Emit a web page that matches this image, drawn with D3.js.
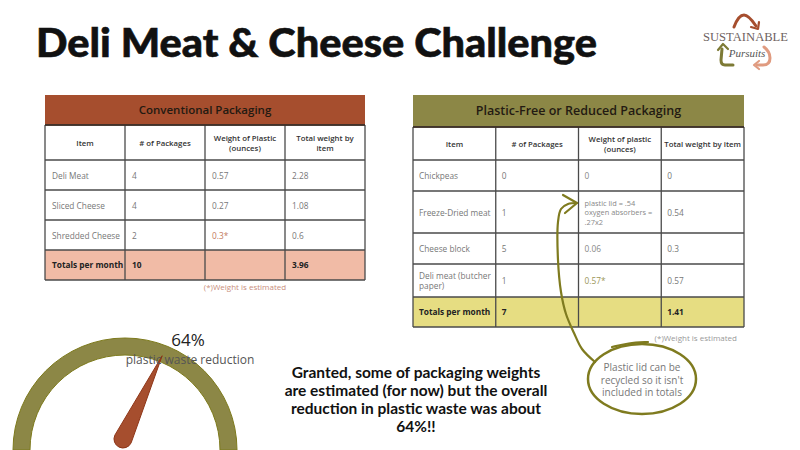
<!DOCTYPE html>
<html><head><meta charset="utf-8">
<script src="https://cdn.jsdelivr.net/npm/d3@7"></script>
<style>html,body{margin:0;padding:0;background:#fff;}svg{display:block;}</style>
</head><body>
<svg id="chart" width="800" height="450"></svg>
<script>
// ---------- DATA ----------
const titleText = "Deli Meat & Cheese Challenge";

const convTitle = "Conventional Packaging";
const convColumns = ["Item", "# of Packages", "Weight of Plastic\n(ounces)", "Total weight by\nitem"];
const convItems = ["Deli Meat", "Sliced Cheese", "Shredded Cheese"];
const convPackages = [4, 4, 2];
const convWeight = ["0.57", "0.27", "0.3*"];
const convEstimated = [false, false, true];
const convTotal = [2.28, 1.08, 0.6];
const convTotalsLabel = "Totals per month";
const convTotalPackages = 10;
const convTotalWeight = 3.96;

const redTitle = "Plastic-Free or Reduced Packaging";
const redColumns = ["Item", "# of Packages", "Weight of plastic\n(ounces)", "Total weight by item"];
const redItems = ["Chickpeas", "Freeze-Dried meat", "Cheese block", "Deli meat (butcher\npaper)"];
const redPackages = [0, 1, 5, 1];
const redWeight = ["0", "plastic lid = .54\noxygen absorbers =\n.27x2", "0.06", "0.57*"];
const redEstimated = [false, false, false, true];
const redTotal = [0, 0.54, 0.3, 0.57];
const redTotalsLabel = "Totals per month";
const redTotalPackages = 7;
const redTotalWeight = 1.41;

const footnote = "(*)Weight is estimated";
const gaugeValue = 64;
const gaugeLabel = "plastic waste reduction";
const summaryLines = ["Granted, some of packaging weights", "are estimated (for now) but the overall", "reduction in plastic waste was about", "64%!!"];
const calloutLines = ["Plastic lid can be", "recycled so it isn't", "included in totals"];

// ---------- DRAW ----------
const svg = d3.select("#chart");
svg.append("rect").attr("width", 800).attr("height", 450).attr("fill", "#fff");

// Title
svg.append("text").attr("x", 36).attr("y", 57)
  .attr("font-family", "Lato").attr("font-weight", 900).attr("font-size", 39)
  .attr("textLength", 561).attr("lengthAdjust", "spacingAndGlyphs")
  .attr("fill", "#111").attr("stroke", "#111").attr("stroke-width", 0.6).text(titleText);

function multiline(sel, txt, lh) {
  const lines = String(txt).split("\n");
  const off = -(lines.length - 1) * lh / 2;
  lines.forEach((l, i) => {
    sel.append("tspan").attr("x", sel.attr("x")).attr("dy", i === 0 ? off + lh * 0.35 : lh).text(l);
  });
}

function drawTable(cfg) {
  const g = svg.append("g");
  const x = d3.scaleBand().domain(d3.range(4)).range(cfg.xRange);
  const ys = [cfg.y0];
  cfg.rowH.forEach(h => ys.push(ys[ys.length - 1] + h));
  const x0 = cfg.xRange[0], x1 = cfg.xRange[1];
  g.append("rect").attr("x", x0).attr("y", ys[0]).attr("width", x1 - x0).attr("height", ys[1] - ys[0]).attr("fill", cfg.headColor);
  g.append("text").attr("x", (x0 + x1) / 2).attr("y", (ys[0] + ys[1]) / 2).attr("dy", "0.35em")
    .attr("text-anchor", "middle").attr("font-family", "Open Sans").attr("font-weight", 600)
    .attr("font-size", cfg.titleSize).attr("fill", "#231a12").text(cfg.title);
  const tr = ys.length - 2;
  g.append("rect").attr("x", x0).attr("y", ys[tr]).attr("width", x1 - x0).attr("height", ys[tr + 1] - ys[tr]).attr("fill", cfg.totalColor);
  const lineC = "#4a4a4a";
  ys.slice(1).forEach(y => g.append("line").attr("x1", x0).attr("x2", x1).attr("y1", y).attr("y2", y).attr("stroke", lineC).attr("stroke-width", 1.3));
  [x0, x(1), x(2), x(3), x1].forEach(xx => g.append("line").attr("x1", xx).attr("x2", xx).attr("y1", ys[1]).attr("y2", ys[ys.length - 1]).attr("stroke", lineC).attr("stroke-width", 1.3));
  g.append("line").attr("x1", x0).attr("x2", x1).attr("y1", ys[1]).attr("y2", ys[1]).attr("stroke", "#3a2a20").attr("stroke-width", 1.6);
  cfg.columns.forEach((c, i) => {
    const t = g.append("text").attr("x", x(i) + x.bandwidth() / 2).attr("y", (ys[1] + ys[2]) / 2)
      .attr("text-anchor", "middle").attr("font-family", "Open Sans").attr("font-weight", 600)
      .attr("font-size", 7.8).attr("fill", "#333");
    multiline(t, c, 10.5);
  });
  cfg.rows.forEach((row, r) => {
    row.forEach((cell, i) => {
      const t = g.append("text").attr("x", x(i) + cfg.pad).attr("y", (ys[r + 2] + ys[r + 3]) / 2)
        .attr("font-family", "Open Sans").attr("font-size", cell.size || 8.3)
        .attr("fill", cell.color || "#777");
      multiline(t, cell.text, cell.lh || 10);
    });
  });
  [cfg.totalsLabel, cfg.totalPackages, "", cfg.totalWeight].forEach((v, i) => {
    g.append("text").attr("x", x(i) + cfg.pad).attr("y", (ys[tr] + ys[tr + 1]) / 2).attr("dy", "0.35em")
      .attr("font-family", "Open Sans").attr("font-weight", 700).attr("font-size", 8.3)
      .attr("fill", "#222").text(v);
  });
  return ys;
}

const convRows = convItems.map((it, i) => [
  {text: it}, {text: convPackages[i]},
  {text: convWeight[i], color: convEstimated[i] ? "#c27a60" : "#777"},
  {text: convTotal[i]}
]);
drawTable({
  xRange: [45, 365], y0: 95, rowH: [30, 35, 30, 30, 30, 30], headColor: "#a64e2e", totalColor: "#f1bba6",
  title: convTitle, titleSize: 11.5, columns: convColumns, rows: convRows, pad: 7,
  totalsLabel: convTotalsLabel, totalPackages: convTotalPackages, totalWeight: convTotalWeight
});

const redRows = redItems.map((it, i) => [
  {text: it}, {text: redPackages[i]},
  {text: redWeight[i], color: redEstimated[i] ? "#9b9658" : "#888", size: i === 1 ? 7.4 : 8.3, lh: 9.3},
  {text: redTotal[i]}
]);
drawTable({
  xRange: [413, 744], y0: 95, rowH: [32, 33, 31, 42, 31, 33, 30], headColor: "#8c8746", totalColor: "#e6dd82",
  title: redTitle, titleSize: 12.5, columns: redColumns, rows: redRows, pad: 6,
  totalsLabel: redTotalsLabel, totalPackages: redTotalPackages, totalWeight: redTotalWeight
});

svg.append("text").attr("x", 245).attr("y", 290).attr("text-anchor", "middle")
  .attr("font-family", "Open Sans").attr("font-size", 8).attr("fill", "#c98e7c").text(footnote);
svg.append("text").attr("x", 737).attr("y", 341).attr("text-anchor", "end")
  .attr("font-family", "Open Sans").attr("font-size", 8).attr("fill", "#999").text(footnote);

// ---------- GAUGE ----------
const gcx = 125, gcy = 450;
const angle = d3.scaleLinear().domain([0, 100]).range([-Math.PI / 2, Math.PI / 2]);
const arc = d3.arc().innerRadius(95).outerRadius(112).startAngle(-Math.PI / 2).endAngle(Math.PI / 2);
svg.append("path").attr("d", arc()).attr("transform", `translate(${gcx},${gcy})`)
  .attr("fill", "#8c8746").attr("stroke", "#7d7a1c").attr("stroke-width", 1);
const a = angle(gaugeValue);
const pvx = gcx - 2, pvy = gcy - 11, len = 92, br = 9;
const tipx = pvx + len * Math.sin(a), tipy = pvy - len * Math.cos(a);
const px = Math.cos(a), py = Math.sin(a);
const needle = d3.path();
needle.moveTo(tipx, tipy);
needle.lineTo(pvx + br * px, pvy + br * py);
needle.arc(pvx, pvy, br, a, a + Math.PI, false);
needle.closePath();
svg.append("path").attr("d", needle.toString()).attr("fill", "#a64e2e").attr("stroke", "#8e3517").attr("stroke-width", 1);
svg.append("text").attr("x", 188).attr("y", 346).attr("text-anchor", "middle")
  .attr("font-family", "Open Sans").attr("font-size", 17).attr("fill", "#222").text(gaugeValue + "%");
svg.append("text").attr("x", 190).attr("y", 364).attr("text-anchor", "middle")
  .attr("font-family", "Open Sans").attr("font-size", 12).attr("fill", "#555").text(gaugeLabel);

// ---------- SUMMARY TEXT ----------
summaryLines.forEach((l, i) => {
  svg.append("text").attr("x", 416).attr("y", 378 + i * 18).attr("text-anchor", "middle")
    .attr("font-family", "Lato").attr("font-weight", 700).attr("font-size", 15.5)
    .attr("fill", "#111").text(l);
});

// ---------- CALLOUT ----------
const olive = "#7f7b1f";
const curvePts = [[595, 362], [582, 349], [574, 333], [566, 314], [561, 292], [558, 260], [558, 222], [561, 209], [568, 204], [577, 203]];
svg.append("path").attr("d", d3.line().curve(d3.curveCatmullRom)(curvePts))
  .attr("fill", "none").attr("stroke", olive).attr("stroke-width", 2.2).attr("stroke-linecap", "round");
svg.append("path").attr("d", d3.line()([[563, 195], [577, 203], [565, 213]]))
  .attr("fill", "none").attr("stroke", olive).attr("stroke-width", 2.2).attr("stroke-linecap", "round").attr("stroke-linejoin", "round");
svg.append("ellipse").attr("cx", 642).attr("cy", 379).attr("rx", 54).attr("ry", 35)
  .attr("fill", "none").attr("stroke", olive).attr("stroke-width", 2.5);
svg.append("path").attr("d", d3.line().curve(d3.curveBasis)([[612, 347], [628, 343], [648, 342]]))
  .attr("fill", "none").attr("stroke", olive).attr("stroke-width", 2.2).attr("stroke-linecap", "round");
calloutLines.forEach((l, i) => {
  svg.append("text").attr("x", 642).attr("y", 371 + i * 12.5).attr("text-anchor", "middle")
    .attr("font-family", "Open Sans").attr("font-size", 10).attr("fill", "#777").text(l);
});

// ---------- LOGO ----------
const logo = svg.append("g").attr("fill", "none").attr("stroke-linecap", "round").attr("stroke-linejoin", "round");
logo.append("path").attr("d", "M734,27 C737,19 740,15 744,15 C748,15 752,20 756,26").attr("stroke", "#a64e2e").attr("stroke-width", 3);
logo.append("path").attr("d", "M751,27 L758,29 L759,22").attr("stroke", "#a64e2e").attr("stroke-width", 2.2);
logo.append("path").attr("d", "M733,65 L725,65 C722,65 721,63 721,60 L722,49").attr("stroke", "#7d7a35").attr("stroke-width", 3);
logo.append("path").attr("d", "M718,50 L723,44 L728,49").attr("stroke", "#7d7a35").attr("stroke-width", 2.2);
logo.append("path").attr("d", "M764,47 C768,50 770,54 770,58 C770,63 767,65 763,65 L757,65").attr("stroke", "#e09b80").attr("stroke-width", 3);
logo.append("path").attr("d", "M759,61 L754,65 L759,69").attr("stroke", "#e09b80").attr("stroke-width", 2.2);
svg.append("rect").attr("x", 702).attr("y", 30).attr("width", 87).attr("height", 12).attr("fill", "#fff");
svg.append("text").attr("x", 703).attr("y", 41).attr("font-family", "Liberation Serif").attr("font-size", 13)
  .attr("textLength", 85).attr("lengthAdjust", "spacingAndGlyphs").attr("fill", "#6e6260").text("SUSTAINABLE");
svg.append("text").attr("x", 747).attr("y", 57).attr("text-anchor", "middle").attr("font-family", "Liberation Serif")
  .attr("font-style", "italic").attr("font-size", 11).attr("fill", "#555").text("Pursuits");
</script>
</body></html>
